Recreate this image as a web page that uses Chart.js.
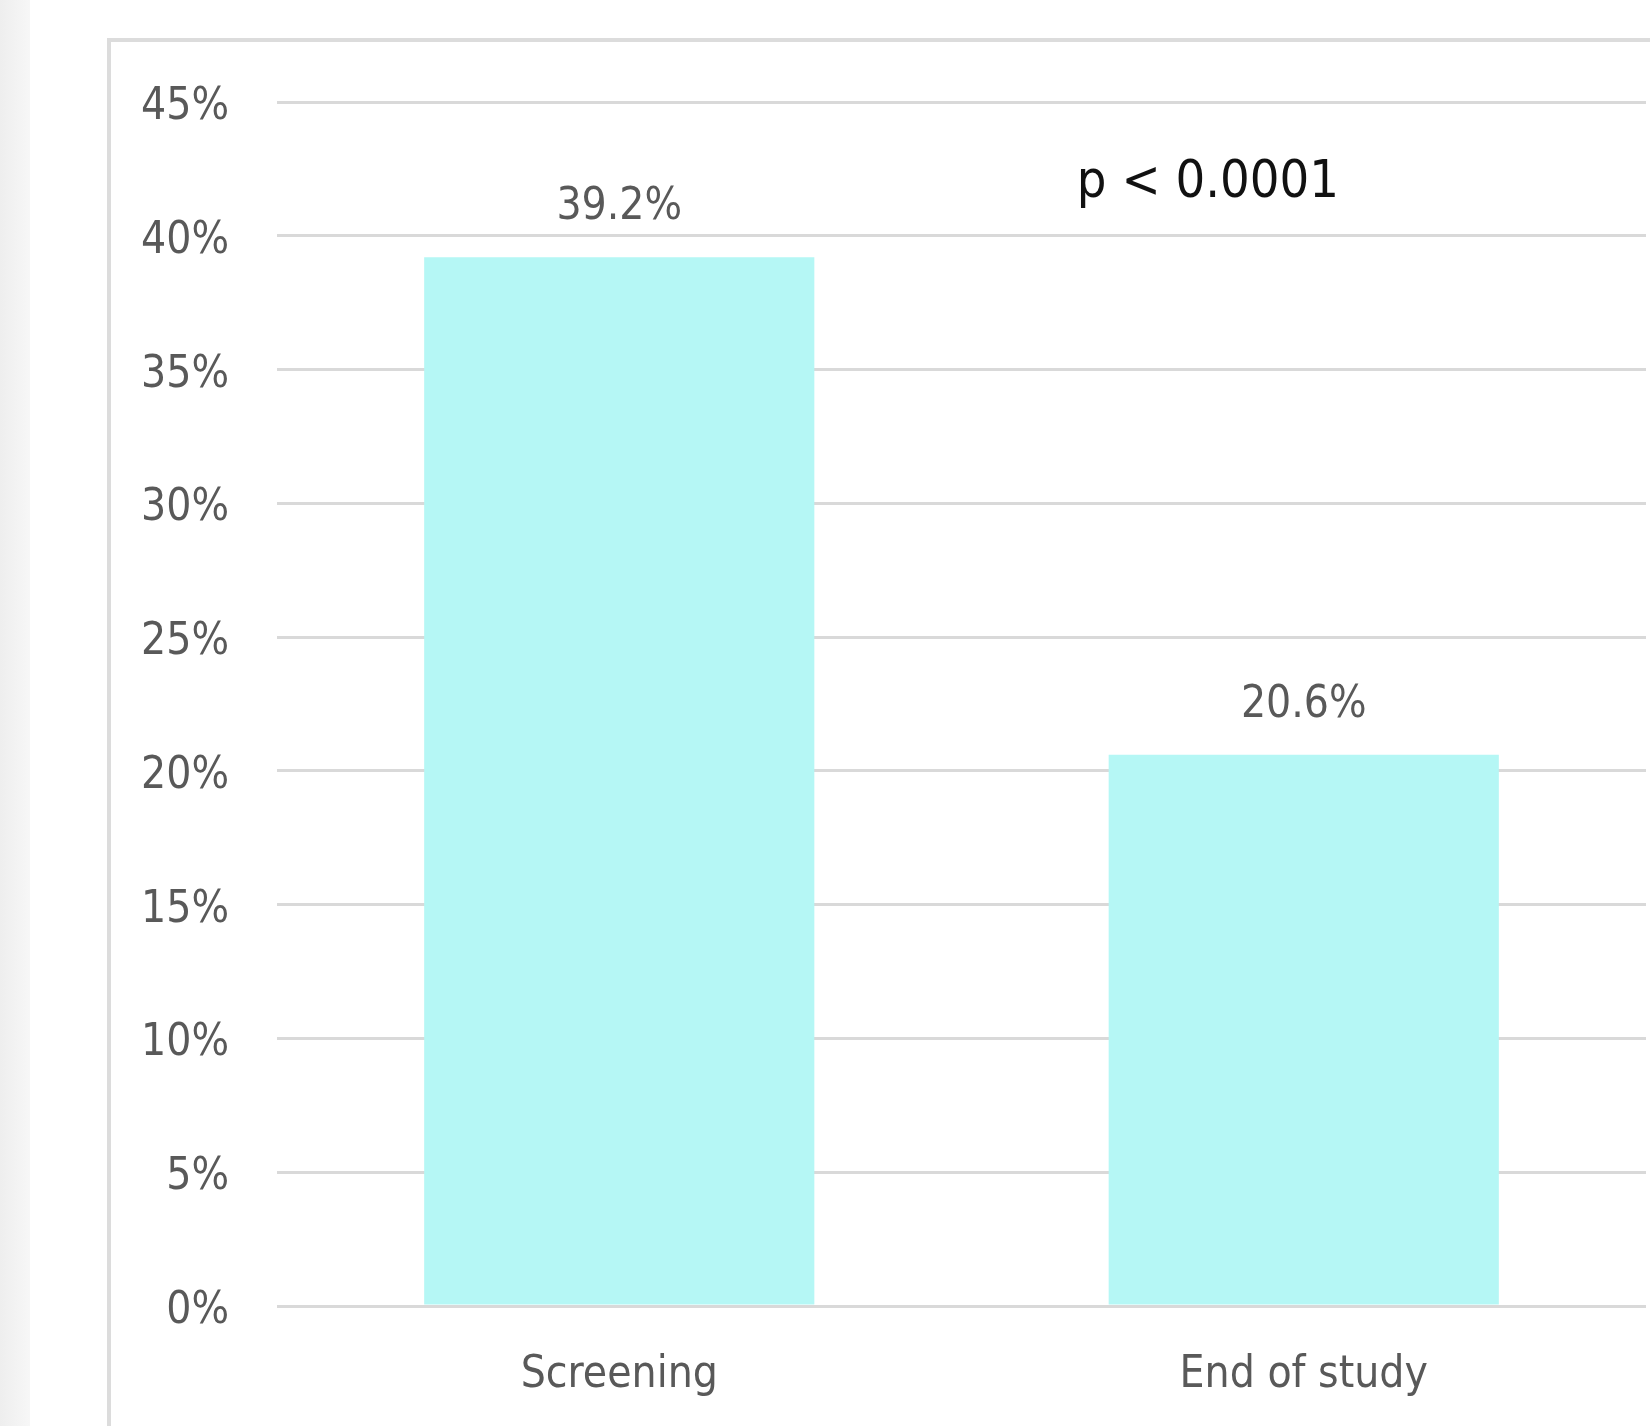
<!DOCTYPE html>
<html>
<head>
<meta charset="utf-8">
<script src="https://cdn.jsdelivr.net/npm/chart.js@4.4.1/dist/chart.umd.min.js"></script>
<style>
  html, body { margin: 0; padding: 0; background: #ffffff; }
  #wrap { position: relative; width: 1650px; height: 1426px; }
  canvas { display: block; }
</style>
</head>
<body>
<div id="wrap"><canvas id="c" width="1650" height="1426"></canvas></div>
<script>
const categories = ["Screening", "End of study"];
const values = [39.2, 20.6];
const yTicksMin = 0;
const yTicksMax = 45;
const yTickStep = 5;
const annotationText = "p < 0.0001";

const FONT = '"Liberation Sans Narrow", "DejaVu Sans Condensed", "Liberation Sans", sans-serif';
const GRAY_TEXT = '#595959';

const backgroundPlugin = {
  id: 'bg',
  beforeDraw(chart) {
    const ctx = chart.ctx;
    ctx.save();
    ctx.fillStyle = '#ffffff';
    ctx.fillRect(0, 0, chart.width, chart.height);
    const g = ctx.createLinearGradient(0, 0, 30, 0);
    g.addColorStop(0, '#eeeeee');
    g.addColorStop(1, '#f7f7f7');
    ctx.fillStyle = g;
    ctx.fillRect(0, 0, 30, chart.height);
    // outer frame
    ctx.strokeStyle = '#dcdcdc';
    ctx.lineWidth = 4;
    ctx.beginPath();
    ctx.moveTo(109, chart.height + 10);
    ctx.lineTo(109, 40);
    ctx.lineTo(chart.width + 10, 40);
    ctx.stroke();
    ctx.restore();
  }
};

const labelPlugin = {
  id: 'labels',
  afterDatasetsDraw(chart) {
    const ctx = chart.ctx;
    ctx.save();
    // y tick labels (digits centred on gridlines)
    const ys = chart.scales.y;
    ctx.font = '44px ' + FONT;
    ctx.fillStyle = GRAY_TEXT;
    ctx.textAlign = 'right';
    ctx.textBaseline = 'alphabetic';
    ys.ticks.forEach((t) => {
      ctx.fillText(t.value + '%', ys.right - 48, ys.getPixelForValue(t.value) + 17);
    });
    // data labels
    const meta = chart.getDatasetMeta(0);
    ctx.textAlign = 'center';
    meta.data.forEach((bar, i) => {
      ctx.fillText(values[i].toFixed(1) + '%', bar.x, bar.y - 38);
    });
    ctx.font = '52px ' + FONT;
    ctx.fillStyle = '#111111';
    ctx.fillText(annotationText, 1208, 197);
    ctx.restore();
  }
};

new Chart(document.getElementById('c'), {
  type: 'bar',
  data: {
    labels: categories,
    datasets: [{
      data: values,
      backgroundColor: '#b5f7f5',
      borderWidth: 0,
      barPercentage: 0.57,
      categoryPercentage: 1.0
    }]
  },
  options: {
    responsive: false,
    devicePixelRatio: 1,
    animation: false,
    layout: { padding: { left: 0, right: 4, top: 102, bottom: 0 } },
    plugins: { legend: { display: false }, tooltip: { enabled: false } },
    scales: {
      x: {
        grid: { display: false, drawTicks: false },
        border: { display: false },
        ticks: { font: { family: FONT, size: 44 }, color: GRAY_TEXT, padding: 43 },
        afterFit(scale) { scale.height = 120; }
      },
      y: {
        min: yTicksMin,
        max: yTicksMax,
        ticks: {
          display: false,
          stepSize: yTickStep,
          font: { family: FONT, size: 44 },
          color: GRAY_TEXT,
          padding: 48,
          callback: (v) => v + '%'
        },
        grid: { color: '#d9d9d9', lineWidth: 3, drawTicks: false },
        border: { display: false },
        afterFit(scale) { scale.width = 277; }
      }
    }
  },
  plugins: [backgroundPlugin, labelPlugin]
});
</script>
</body>
</html>
